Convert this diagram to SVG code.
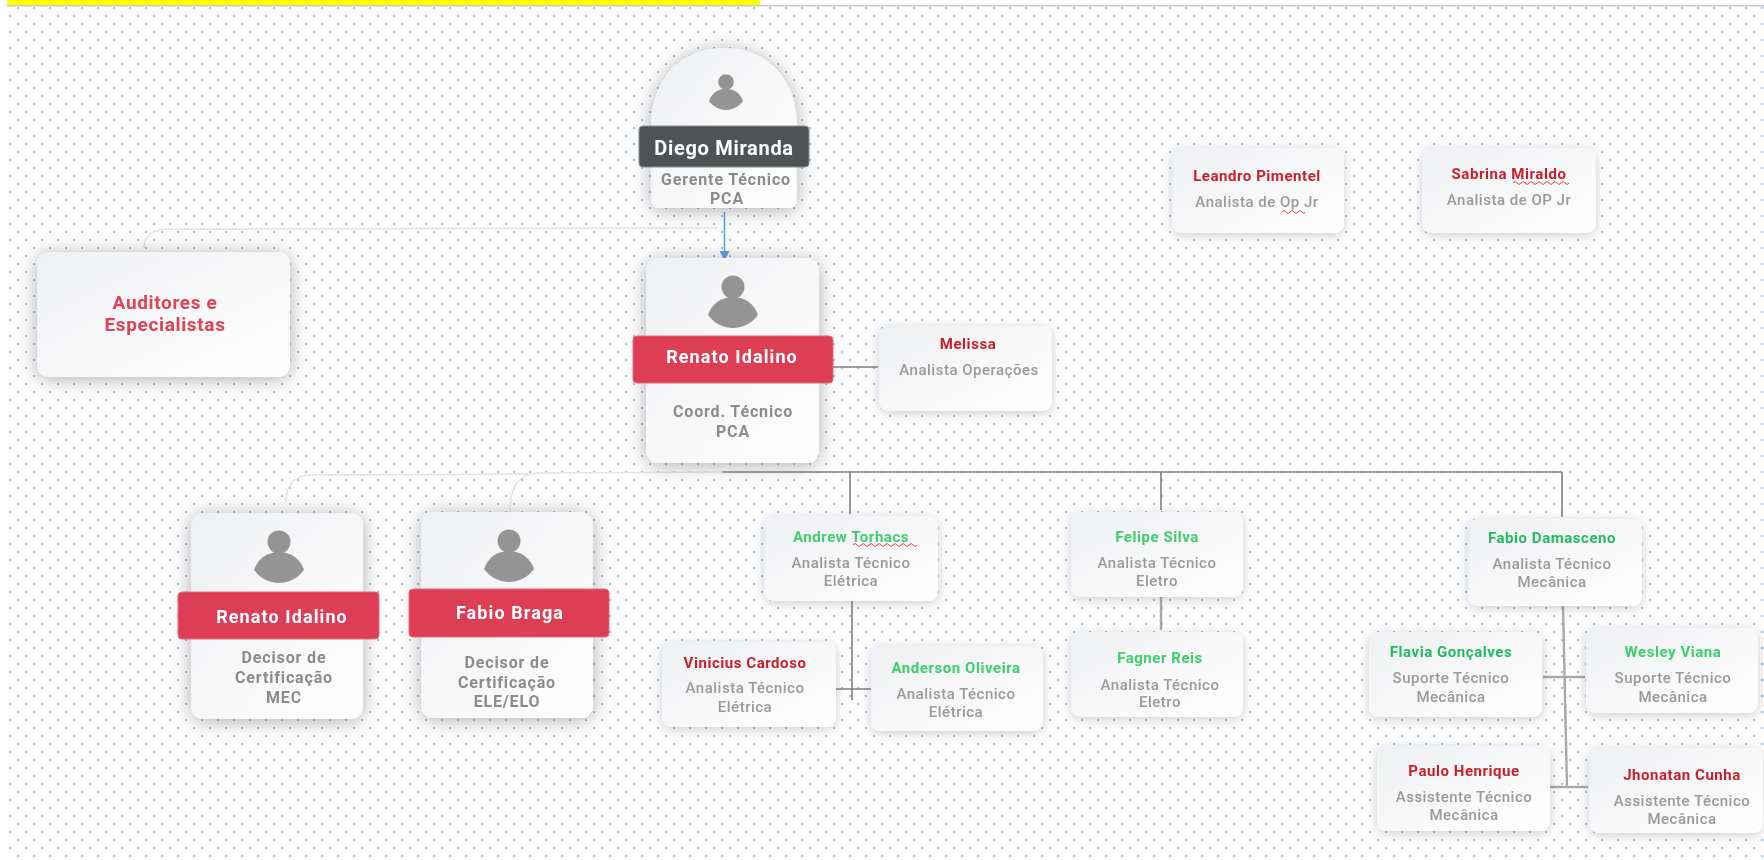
<svg xmlns="http://www.w3.org/2000/svg" width="1764" height="860" viewBox="0 0 1764 860">
<style>
text{font-family:"Roboto","Liberation Sans",sans-serif;text-anchor:middle}
.card{fill:url(#cardfill);filter:url(#shadow)}
.cardb{fill:url(#cardfill);filter:url(#shadowb)}
.ban{fill:#dd3d55;stroke:#e56a7c;stroke-width:1}
.bn{fill:#fff;font-size:18px;font-weight:700;letter-spacing:1.1px}
.sb{fill:#8b8b8b;font-size:16px;font-weight:700;letter-spacing:.85px}
.nm{font-size:15px;font-weight:700;letter-spacing:.55px}
.ti{fill:#9a9a9a;font-size:15px;font-weight:500;letter-spacing:.5px}
.au{fill:#e04058;font-size:19px;font-weight:700;letter-spacing:.65px}
.g{fill:#3ecf6e}.g2{fill:#22bb60}.r{fill:#cc1f2b}
.cn{fill:none;stroke:#7f7f7f;stroke-width:1.6}
.cl{fill:none;stroke:#a8a8a8;stroke-width:2.4}
.ft{fill:none;stroke:#e4e4e4;stroke-width:1.6}
.sq{fill:none;stroke:#e8404a;stroke-width:1}
.ic{fill:#949494}
</style>
<defs>
<pattern id="dots" width="16" height="16" patternUnits="userSpaceOnUse">
<circle cx="10" cy="0" r="1.1" fill="#7db5ea"/><circle cx="10" cy="16" r="1.1" fill="#7db5ea"/>
<circle cx="2" cy="8" r="1.1" fill="#7db5ea"/>
</pattern>
<linearGradient id="cardfill" x1="0" y1="0" x2="1" y2="1">
<stop offset="0" stop-color="#eff0f2"/><stop offset="1" stop-color="#ffffff"/>
</linearGradient>
<filter id="shadow" x="-25%" y="-40%" width="150%" height="180%">
<feDropShadow dx="0" dy="2" stdDeviation="6" flood-color="#777" flood-opacity=".4"/>
</filter>
<filter id="shadowb" x="-30%" y="-30%" width="160%" height="160%">
<feDropShadow dx="0" dy="2" stdDeviation="10" flood-color="#666" flood-opacity=".55"/>
</filter>
<filter id="soft" x="0" y="0" width="1764" height="860" filterUnits="userSpaceOnUse">
<feGaussianBlur stdDeviation=".55"/>
</filter>
<g id="person" class="ic">
<circle cx="0" cy="0" r="11.5"/>
<path d="M-25 28C-21 16-11 10 0 10C11 10 21 16 25 28C19 36 10 41 0 41C-10 41-19 36-25 28Z"/>
</g>
<marker id="ah" markerWidth="12" markerHeight="12" refX="9" refY="5" orient="auto" markerUnits="userSpaceOnUse">
<path d="M0 0L10 5L0 10Z" fill="#5b9fdf"/>
</marker>
</defs>
<rect width="1764" height="860" fill="#fff"/>
<g filter="url(#soft)">
<rect x="6" y="6" width="1758" height="854" fill="url(#dots)"/>
<rect x="7" y="5" width="1757" height="1.5" fill="#c6c8ca"/>
<rect x="7" y="0" width="753" height="5" fill="#ffff00"/>
<g id="connectors">
<path class="ft" d="M144 248C144 236 152 230 166 229L717 228"/>
<path class="ft" d="M286 502C286 484 294 476 310 475L530 474"/>
<path class="ft" d="M510 512C510 486 518 474 538 473L723 472"/>
<path d="M724.5 212V260" fill="none" stroke="#5b9fdf" stroke-width="1.6" marker-end="url(#ah)"/>
<path class="cn" d="M723 472H1562M850 472V514M1161 472V510M1562 472V517M833 367H878"/>
<path class="cn" d="M852 601V700M836 689H871"/>
<path class="cl" d="M1161 597V630M1563 606L1567 787M1543 677H1585M1550 787H1588"/>
</g>
<g id="diego">
<path class="cardb" d="M651 125C651 80 680 48 724 48C768 48 797 80 797 125V200a8 8 0 0 1-8 8H659a8 8 0 0 1-8-8Z"/>
<use href="#person" transform="translate(726 82) scale(.68)"/>
<rect x="639" y="126" width="170" height="41" rx="4" fill="#505354" stroke="#8a8c8c"/>
<text class="bn" x="724" y="155" style="font-size:20px;letter-spacing:.7px">Diego Miranda</text>
<text class="sb" x="726" y="185">Gerente Técnico</text>
<text class="sb" x="727" y="204">PCA</text>
</g>
<g id="auditores">
<rect class="cardb" x="37" y="252" width="253" height="125" rx="12"/>
<text class="au" x="165" y="309">Auditores e</text>
<text class="au" x="165" y="331">Especialistas</text>
</g>
<g id="renato-coord">
<rect class="cardb" x="646" y="258" width="173" height="205" rx="12"/>
<use href="#person" x="733" y="287"/>
<rect class="ban" x="633" y="336" width="200" height="47" rx="4"/>
<text class="bn" x="732" y="363">Renato Idalino</text>
<text class="sb" x="733" y="417">Coord. Técnico</text>
<text class="sb" x="733" y="437">PCA</text>
</g>
<g id="melissa">
<rect class="card" x="879" y="326" width="173" height="85" rx="9"/>
<text class="nm r" x="968" y="349">Melissa</text>
<text class="ti" x="969" y="375">Analista Operações</text>
</g>
<g id="leandro">
<rect class="card" x="1172" y="148" width="172" height="85" rx="9"/>
<text class="nm r" x="1257" y="181">Leandro Pimentel</text>
<text class="ti" x="1257" y="207">Analista de Op Jr</text>
<path class="sq" d="M1282 212q2-3 4 0t4 0t4 0t4 0t4 0t3 0"/>
</g>
<g id="sabrina">
<rect class="card" x="1422" y="148" width="174" height="85" rx="9"/>
<text class="nm r" x="1509" y="179">Sabrina Miraldo</text>
<text class="ti" x="1509" y="205">Analista de OP Jr</text>
<path class="sq" d="M1513 183q2-3 4 0t4 0t4 0t4 0t4 0t4 0t4 0t4 0t4 0t4 0t4 0t4 0t4 0t4 0"/>
</g>
<g id="renato-decisor">
<rect class="cardb" x="191" y="513" width="172" height="206" rx="12"/>
<use href="#person" x="279" y="542"/>
<rect class="ban" x="178" y="592" width="201" height="47" rx="4"/>
<text class="bn" x="282" y="623">Renato Idalino</text>
<text class="sb" x="284" y="663">Decisor de</text>
<text class="sb" x="284" y="683">Certificação</text>
<text class="sb" x="284" y="703">MEC</text>
</g>
<g id="fabio-braga">
<rect class="cardb" x="421" y="512" width="172" height="206" rx="12"/>
<use href="#person" x="509" y="541"/>
<rect class="ban" x="409" y="589" width="200" height="48" rx="4"/>
<text class="bn" x="510" y="619">Fabio Braga</text>
<text class="sb" x="507" y="668">Decisor de</text>
<text class="sb" x="507" y="688">Certificação</text>
<text class="sb" x="507" y="707">ELE/ELO</text>
</g>
<g id="andrew">
<rect class="card" x="764" y="516" width="174" height="85" rx="9"/>
<text class="nm g" x="851" y="542">Andrew Torhacs</text>
<text class="ti" x="851" y="568">Analista Técnico</text>
<text class="ti" x="851" y="586">Elétrica</text>
<path class="sq" d="M853 545q2-3 4 0t4 0t4 0t4 0t4 0t4 0t4 0t4 0t4 0t4 0t4 0t4 0t4 0t4 0t4 0t4 0"/>
</g>
<g id="vinicius">
<rect class="card" x="662" y="642" width="174" height="85" rx="9"/>
<text class="nm r" x="745" y="668">Vinicius Cardoso</text>
<text class="ti" x="745" y="693">Analista Técnico</text>
<text class="ti" x="745" y="712">Elétrica</text>
</g>
<g id="anderson">
<rect class="card" x="871" y="646" width="172" height="85" rx="9"/>
<text class="nm g" x="956" y="673">Anderson Oliveira</text>
<text class="ti" x="956" y="699">Analista Técnico</text>
<text class="ti" x="956" y="717">Elétrica</text>
</g>
<g id="felipe">
<rect class="card" x="1071" y="512" width="172" height="85" rx="9"/>
<text class="nm g" x="1157" y="542">Felipe Silva</text>
<text class="ti" x="1157" y="568">Analista Técnico</text>
<text class="ti" x="1157" y="586">Eletro</text>
</g>
<g id="fagner">
<rect class="card" x="1071" y="632" width="172" height="85" rx="9"/>
<text class="nm g" x="1160" y="663">Fagner Reis</text>
<text class="ti" x="1160" y="690">Analista Técnico</text>
<text class="ti" x="1160" y="707">Eletro</text>
</g>
<g id="fabio-damasceno">
<rect class="card" x="1468" y="519" width="174" height="87" rx="9"/>
<text class="nm g2" x="1552" y="543">Fabio Damasceno</text>
<text class="ti" x="1552" y="569">Analista Técnico</text>
<text class="ti" x="1552" y="587">Mecânica</text>
</g>
<g id="flavia">
<rect class="card" x="1369" y="632" width="173" height="85" rx="9"/>
<text class="nm g2" x="1451" y="657">Flavia Gonçalves</text>
<text class="ti" x="1451" y="683">Suporte Técnico</text>
<text class="ti" x="1451" y="702">Mecânica</text>
</g>
<g id="wesley">
<rect class="card" x="1586" y="628" width="172" height="85" rx="9"/>
<text class="nm g" x="1673" y="657">Wesley Viana</text>
<text class="ti" x="1673" y="683">Suporte Técnico</text>
<text class="ti" x="1673" y="702">Mecânica</text>
</g>
<g id="paulo">
<rect class="card" x="1377" y="746" width="173" height="85" rx="9"/>
<text class="nm r" x="1464" y="776">Paulo Henrique</text>
<text class="ti" x="1464" y="802">Assistente Técnico</text>
<text class="ti" x="1464" y="820">Mecânica</text>
</g>
<g id="jhonatan">
<rect class="card" x="1589" y="748" width="174" height="85" rx="9"/>
<text class="nm r" x="1682" y="780">Jhonatan Cunha</text>
<text class="ti" x="1682" y="806">Assistente Técnico</text>
<text class="ti" x="1682" y="824">Mecânica</text>
</g>
</g>
</svg>
